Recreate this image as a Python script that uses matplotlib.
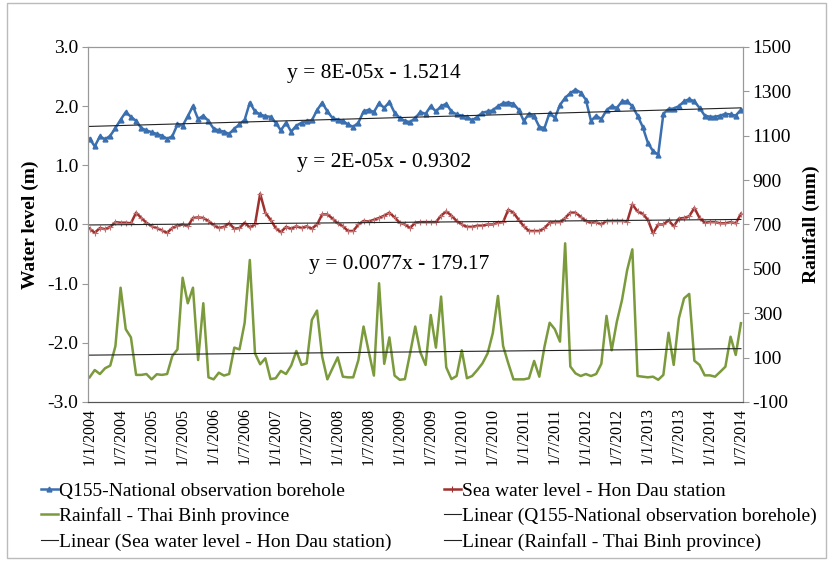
import numpy as np
import matplotlib.pyplot as plt
from matplotlib.lines import Line2D
from matplotlib.patches import Rectangle

plt.rcParams['font.family'] = ['Liberation Serif', 'DejaVu Serif']

# 月份索引 (2004-01 ... 2014-07)
months = np.arange(127)
tick_pos = np.arange(0, 127, 6)
tick_labels = ['1/%d/%d' % (1 if i % 2 == 0 else 7, 2004 + i // 2) for i in range(len(tick_pos))]

# Q155 观测孔水位 (m)
q155 = [1.45, 1.32, 1.49, 1.44, 1.50, 1.63, 1.77, 1.90, 1.82, 1.75, 1.63, 1.59, 1.56, 1.53, 1.50,
        1.45, 1.49, 1.69, 1.67, 1.83, 2.00, 1.78, 1.84, 1.75, 1.62, 1.59, 1.57, 1.53, 1.62, 1.69,
        1.77, 2.06, 1.91, 1.86, 1.83, 1.82, 1.72, 1.59, 1.72, 1.57, 1.67, 1.72, 1.75, 1.76, 1.93,
        2.06, 1.91,
        1.80, 1.77, 1.75, 1.69, 1.65, 1.72, 1.91, 1.94, 1.90, 2.05, 1.97, 2.07, 1.89, 1.80, 1.75,
        1.73, 1.80, 1.90, 1.87, 2.00, 1.91, 2.00, 2.04, 1.91, 1.86, 1.84, 1.82, 1.76, 1.82, 1.89,
        1.91, 1.93, 2.00, 2.05, 2.06, 2.04, 1.94, 1.75, 1.87, 1.83, 1.65, 1.63, 1.89, 1.80, 2.02,
        2.14, 2.22,
        2.28, 2.23, 2.11, 1.75, 1.84, 1.78, 1.93, 2.00, 1.97, 2.08, 2.08, 2.00, 1.84, 1.65, 1.38,
        1.24, 1.18, 1.87, 1.95, 1.96, 2.00, 2.08, 2.12, 2.08, 1.97, 1.84, 1.82, 1.82, 1.84, 1.87,
        1.86, 1.84, 1.94]

# Hon Dau 站海平面 (m)
sea = [-0.07, -0.14, -0.06, -0.08, -0.04, 0.04, 0.03, 0.03, 0.02, 0.20, 0.11, 0.03, -0.03, -0.06,
       -0.10, -0.14, -0.06, -0.02, 0.00, -0.03, 0.11, 0.12, 0.11, 0.06, -0.01, -0.06, -0.04, 0.02,
       -0.07, -0.06, 0.03, -0.05, 0.00, 0.52, 0.20, 0.08, -0.06, -0.13, -0.04, -0.07, -0.03, -0.06,
       -0.03, -0.07, 0.00, 0.17, 0.17,
       0.10, 0.02, -0.03, -0.11, -0.11, 0.00, 0.06, 0.05, 0.08, 0.11, 0.15, 0.20, 0.12, 0.03, 0.00,
       -0.06, 0.03, 0.04, 0.04, 0.04, 0.04, 0.15, 0.22, 0.15, 0.06, 0.00, -0.04, -0.04, -0.02, -0.02,
       0.00, 0.00, 0.03, 0.04, 0.25, 0.20, 0.08, -0.03, -0.11, -0.11, -0.11, -0.06, 0.03, 0.04, 0.04,
       0.11, 0.20,
       0.20, 0.13, 0.06, 0.03, 0.04, 0.00, 0.06, 0.06, 0.06, 0.06, 0.05, 0.34, 0.22, 0.18, 0.08,
       -0.15, 0.00, 0.00, 0.07, -0.03, 0.10, 0.11, 0.14, 0.28, 0.11, 0.03, 0.04, 0.04, 0.02, 0.02,
       0.04, 0.02, 0.18]

# Thai Binh 省降雨量 (mm)
rain = [11, 44, 26, 52, 64, 152, 415, 228, 191, 22, 22, 26, 2, 25, 22, 26, 107, 137, 460, 345,
        415, 89, 345, 11, 2, 32, 19, 26, 145, 137, 257, 540, 119, 70, 97, 3, 7, 40, 26, 64,
        130, 67, 74, 270, 312, 104, 2,
        52, 101, 14, 11, 11, 89, 240, 127, 19, 435, 72, 191, 19, 0, 3, 119, 240, 123, 67, 292,
        145, 375, 56, 3, 17, 133, 7, 17, 44, 74, 119, 210, 378, 152, 74, 2, 2, 2, 7, 85,
        14, 149, 257, 228, 172, 615, 60,
        29, 17, 26, 17, 26, 72, 288, 133, 262, 360, 495, 588, 17, 14, 11, 14, 0, 22, 212, 67,
        277, 367, 387, 86, 67, 20, 20, 14, 36, 59, 194, 112, 255]

blue = '#3A6FB0'
red = '#A0302E'
green = '#7A9A3C'

fig = plt.figure(figsize=(8.32, 5.68), dpi=100)
ax = fig.add_axes([0.1058, 0.2923, 0.7872, 0.625])
ax2 = ax.twinx()

# 数据曲线
l1, = ax.plot(months, q155, color=blue, lw=1.8, marker='^', ms=3.5, mec=blue, mfc=blue)
l2, = ax.plot(months, sea, color=red, lw=1.8, marker='+', ms=4.5, mew=0.8, mec='#C07070')
l3, = ax2.plot(months, rain, color=green, lw=1.8)

# 线性趋势线
t1 = np.polyval(np.polyfit(months, q155, 1), months)
t2 = np.polyval(np.polyfit(months, sea, 1), months)
t3 = np.polyval(np.polyfit(months, rain, 1), months)
lt1, = ax.plot(months, t1, color='#222222', lw=0.8)
lt2, = ax.plot(months, t2, color='#222222', lw=0.8)
lt3, = ax2.plot(months, t3, color='#222222', lw=0.8)

# 坐标轴范围和刻度
ax.set_xlim(-0.3, 126.4)
ax.set_ylim(-3, 3)
ax2.set_ylim(-100, 1500)
ax.set_yticks(np.arange(-3, 3.1, 1))
ax.set_yticklabels(['%.1f' % v for v in np.arange(-3, 3.1, 1)], fontsize=14)
ax2.set_yticks(np.arange(-100, 1501, 200))
ax2.set_yticklabels([str(v) for v in np.arange(-100, 1501, 200)], fontsize=14)
ax.set_xticks(tick_pos)
ax.set_xticklabels(tick_labels, rotation=90, fontsize=11.5)

ax.tick_params(axis='y', length=4, color='#999999', pad=3)
ax2.tick_params(axis='y', length=4, color='#999999', pad=3)
ax.tick_params(axis='x', length=0, pad=4)

for s in ['left', 'right', 'top']:
    ax.spines[s].set_color('#999999')
    ax2.spines[s].set_color('#999999')
ax.spines['bottom'].set_color('#555555')
ax2.spines['bottom'].set_color('#555555')

ax.set_ylabel('Water level (m)', fontsize=14, fontweight='bold', labelpad=6)
ax2.set_ylabel('Rainfall (mm)', fontsize=14, fontweight='bold', labelpad=8)

# 趋势线方程
fig.text(374 / 832, 1 - 74 / 568, 'y = 8E-05x - 1.5214', fontsize=15.5, ha='center', va='center')
fig.text(384 / 832, 1 - 162 / 568, 'y = 2E-05x - 0.9302', fontsize=15.5, ha='center', va='center')
fig.text(399 / 832, 1 - 265 / 568, 'y = 0.0077x - 179.17', fontsize=15.5, ha='center', va='center')

# 图例 (两列)
h_q = Line2D([], [], color=blue, lw=1.8, marker='^', ms=3.5)
h_s = Line2D([], [], color=red, lw=1.8, marker='+', ms=4.5, mew=0.8)
h_r = Line2D([], [], color=green, lw=1.8)
h_t = Line2D([], [], color='#222222', lw=0.8)
leg_kw = dict(frameon=False, fontsize=14, handlelength=0.85, handletextpad=0.1,
              labelspacing=0.4, borderaxespad=0, borderpad=0)
fig.legend([h_q, h_r, h_t],
           ['Q155-National observation borehole', 'Rainfall - Thai Binh province',
            'Linear (Sea water level - Hon Dau station)'],
           loc='upper left', bbox_to_anchor=(41 / 832, 1 - 482 / 568), **leg_kw)
fig.legend([h_s, h_t, h_t],
           ['Sea water level - Hon Dau station', 'Linear (Q155-National observation borehole)',
            'Linear (Rainfall - Thai Binh province)'],
           loc='upper left', bbox_to_anchor=(444 / 832, 1 - 482 / 568), **leg_kw)

# 外框
fig.patches.append(Rectangle((7 / 832, 10 / 568), 819 / 832, 555 / 568, transform=fig.transFigure,
                             fill=False, edgecolor='#BBBBBB', lw=1))

plt.savefig('out.png', dpi=100)
